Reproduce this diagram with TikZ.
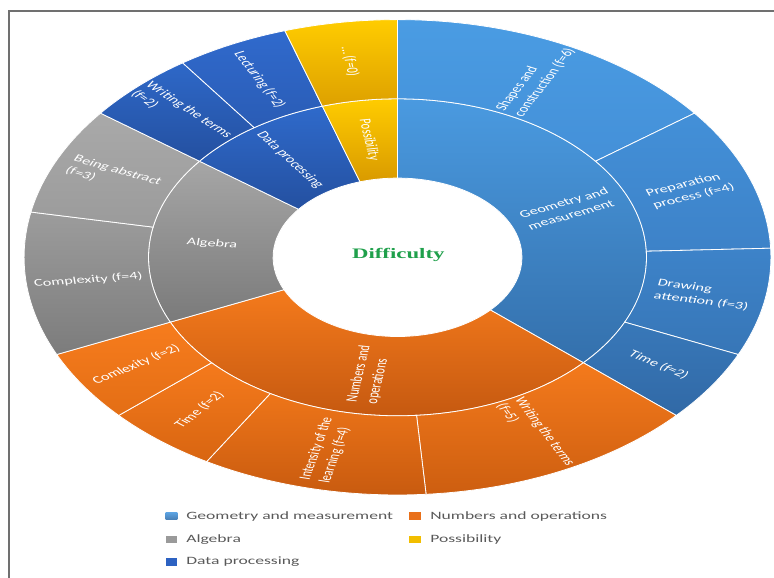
\documentclass[tikz,border=0pt]{standalone}
\usepackage{fontspec}
\setmainfont{Carlito}
\newfontfamily\diffont{Liberation Serif}
\definecolor{framec}{HTML}{707070}
\definecolor{legtext}{HTML}{595959}
\definecolor{diffgreen}{HTML}{1FA04B}
% geometry
\definecolor{geoA}{HTML}{4A9AE0}\definecolor{geoB}{HTML}{3470AC}
\definecolor{shA}{HTML}{4A9CE3}\definecolor{shB}{HTML}{4490D8}
\definecolor{prA}{HTML}{4390D8}\definecolor{prB}{HTML}{3D82C8}
\definecolor{drA}{HTML}{3D83C9}\definecolor{drB}{HTML}{3776B7}
\definecolor{tgA}{HTML}{3878B9}\definecolor{tgB}{HTML}{3169A6}
% numbers
\definecolor{nuA}{HTML}{F47A1C}\definecolor{nuB}{HTML}{C45810}
\definecolor{wfA}{HTML}{F47A1C}\definecolor{wfB}{HTML}{CD5E10}
\definecolor{inA}{HTML}{EE7519}\definecolor{inB}{HTML}{C75A0F}
\definecolor{tnA}{HTML}{F57A1C}\definecolor{tnB}{HTML}{D86511}
\definecolor{cnA}{HTML}{F77C1D}\definecolor{cnB}{HTML}{E36E15}
% algebra
\definecolor{alA}{HTML}{A6A6A6}\definecolor{alB}{HTML}{7A7A7A}
\definecolor{cxA}{HTML}{9C9C9C}\definecolor{cxB}{HTML}{7C7C7C}
\definecolor{baA}{HTML}{A9A9A9}\definecolor{baB}{HTML}{9B9B9B}
% data
\definecolor{daA}{HTML}{2F6ACB}\definecolor{daB}{HTML}{2450A0}
\definecolor{wdA}{HTML}{2E68C8}\definecolor{wdB}{HTML}{2450A0}
\definecolor{leA}{HTML}{306ACD}\definecolor{leB}{HTML}{2A5CB5}
% possibility
\definecolor{poA}{HTML}{FFCC00}\definecolor{poB}{HTML}{D99A00}
\definecolor{pzA}{HTML}{FFCC00}\definecolor{pzB}{HTML}{DDA000}
% legend
\definecolor{lgGeo}{HTML}{4A94DA}
\definecolor{lgNum}{HTML}{E9701A}
\definecolor{lgAlg}{HTML}{9A9A9A}
\definecolor{lgPos}{HTML}{F2BE00}
\definecolor{lgDat}{HTML}{2D62C2}
\newcommand\angu{8.780488}
\newcommand\sunsect[5]{\shadedraw[#1] ({90-(#2)*\angu}:#4) arc[start angle={90-(#2)*\angu},end angle={90-(#3)*\angu},radius=#4] -- ({90-(#3)*\angu}:#5) arc[start angle={90-(#3)*\angu},end angle={90-(#2)*\angu},radius=#5] -- cycle;}
\tikzset{
  sc/.style 2 args={top color=#1,bottom color=#2,draw=white,line width=0.8pt},
  lbl/.style={text=white,align=left,inner sep=0pt,font=\fontsize{10.4}{13}\selectfont},
  legsq/.style={minimum width=7.5pt,minimum height=7.5pt,inner sep=0pt,draw=none},
  legtx/.style={anchor=base west,inner sep=0pt,text=legtext,font=\fontsize{11.2}{13}\selectfont},
  difflbl/.style={text=diffgreen,inner sep=0pt,font=\diffont\bfseries\fontsize{14.5}{16}\selectfont}
}
\begin{document}
\begin{tikzpicture}[x=1pt,y=1pt]
\useasboundingbox (0,0) rectangle (774,578);
\coordinate (fr1) at (774,567);
\coordinate (fr2) at (9,567);
\coordinate (fr3) at (9,0);
\draw[framec,line width=1.2pt] (fr1) -- (fr2) -- (fr3);
\begin{scope}[shift={(397.5,320.7)},xscale=1.571,transform shape]
% inner ring
\sunsect{sc={geoA}{geoB}}{0}{15}{79.2}{158.5}
\sunsect{sc={nuA}{nuB}}{15}{28}{79.2}{158.5}
\sunsect{sc={alA}{alB}}{28}{35}{79.2}{158.5}
\sunsect{sc={daA}{daB}}{35}{39}{79.2}{158.5}
\sunsect{sc={poA}{poB}}{39}{41}{79.2}{158.5}
% outer ring
\sunsect{sc={shA}{shB}}{0}{6}{158.5}{237.7}
\sunsect{sc={prA}{prB}}{6}{10}{158.5}{237.7}
\sunsect{sc={drA}{drB}}{10}{13}{158.5}{237.7}
\sunsect{sc={tgA}{tgB}}{13}{15}{158.5}{237.7}
\sunsect{sc={wfA}{wfB}}{15}{20}{158.5}{237.7}
\sunsect{sc={inA}{inB}}{20}{24}{158.5}{237.7}
\sunsect{sc={tnA}{tnB}}{24}{26}{158.5}{237.7}
\sunsect{sc={cnA}{cnB}}{26}{28}{158.5}{237.7}
\sunsect{sc={cxA}{cxB}}{28}{32}{158.5}{237.7}
\sunsect{sc={baA}{baB}}{32}{35}{158.5}{237.7}
\sunsect{sc={wdA}{wdB}}{35}{37}{158.5}{237.7}
\sunsect{sc={leA}{leB}}{37}{39}{158.5}{237.7}
\sunsect{sc={pzA}{pzB}}{39}{41}{158.5}{237.7}
% inner labels
\node[lbl,rotate=24.15] (lgeo) at (24.146:118.85) {Geometry and\\measurement};
\node[lbl,rotate=81.22] (lnum) at (-98.780:118.85) {Numbers and\\operations};
\node[lbl,rotate=-6.59] (lalg) at (173.415:118.85) {Algebra};
\node[lbl,rotate=-54.88] (ldat) at (125.122:118.85) {Data processing};
\node[lbl,rotate=-81.22] (lpos) at (98.780:118.85) {Possibility};
% outer labels
\node[lbl,rotate=63.66] (lshp) at (63.659:198.1) {Shapes and\\construction (f=6)};
\node[lbl,rotate=19.76] (lprep) at (19.756:198.1) {Preparation\\process (f=4)};
\node[lbl,rotate=-10.98] (ldraw) at (-10.976:198.1) {Drawing\\attention (f=3)};
\node[lbl,rotate=-32.93] (ltimeg) at (-32.927:198.1) {Time (f=2)};
\node[lbl,rotate=-63.66] (lwrn) at (-63.659:198.1) {Writing the terms\\(f=5)};
\node[lbl,rotate=76.83] (lint) at (-103.171:198.1) {Intensity of the\\learning (f=4)};
\node[lbl,rotate=50.49] (ltimen) at (-129.512:198.1) {Time (f=2)};
\node[lbl,rotate=32.93] (lcomn) at (-147.073:198.1) {Comlexity (f=2)};
\node[lbl,rotate=6.59] (lcoma) at (-173.415:198.1) {Complexity (f=4)};
\node[lbl,rotate=-24.15] (labs) at (155.854:198.1) {Being abstract\\(f=3)};
\node[lbl,rotate=-46.10] (lwrd) at (133.902:198.1) {Writing the terms\\(f=2)};
\node[lbl,rotate=-63.66] (llec) at (116.341:198.1) {Lecturing (f=2)};
\node[lbl,rotate=-81.22] (lzero) at (98.780:198.1) {… (f=0)};
% centre
\node[difflbl] (diff) at (0.5,2.3) {Difficulty};
% legend
\node[legsq,top color=geoA!90,bottom color=geoB!90] (k1) at (-143.9,-258.7) {};
\node[legtx] (t1) at (-134.6,-262.7) {Geometry and measurement};
\node[legsq,fill=lgNum] (k2) at (11.1,-258.7) {};
\node[legtx] (t2) at (20.7,-262.7) {Numbers and operations};
\node[legsq,fill=lgAlg] (k3) at (-143.9,-282.2) {};
\node[legtx] (t3) at (-134.6,-285.4) {Algebra};
\node[legsq,fill=lgPos] (k4) at (11.1,-282.2) {};
\node[legtx] (t4) at (20.7,-285.4) {Possibility};
\node[legsq,fill=lgDat] (k5) at (-143.9,-304.7) {};
\node[legtx] (t5) at (-134.6,-307.7) {Data processing};
\end{scope}
\end{tikzpicture}
\end{document}
